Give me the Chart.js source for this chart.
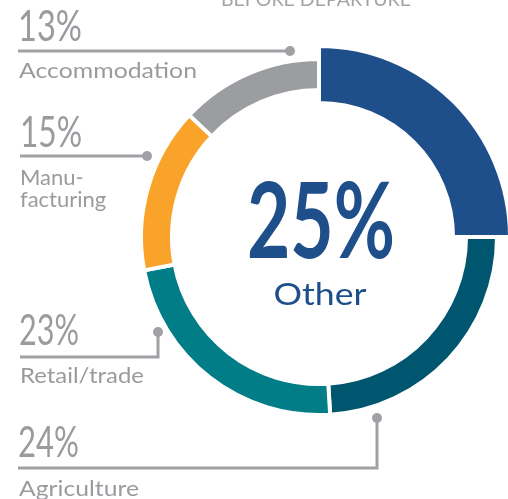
<!DOCTYPE html>
<html>
<head>
<meta charset="utf-8">
<script src="https://cdn.jsdelivr.net/npm/chart.js@4.4.1/dist/chart.umd.min.js"></script>
<style>
  html, body { margin: 0; padding: 0; background: #fff; }
  #wrap { position: relative; width: 508px; height: 499px; overflow: hidden; }
  #ring { position: absolute; left: 0; top: 0; }
  #notes { position: absolute; left: 0; top: 0; pointer-events: none; }
  #notes text { font-family: Lato, "Open Sans", sans-serif; }
</style>
</head>
<body>
<div id="wrap">
  <canvas id="ring" width="508" height="499"></canvas>
  <svg id="notes" width="508" height="499" xmlns="http://www.w3.org/2000/svg">
    <text x="316" y="6" text-anchor="middle" font-size="19" fill="#a3a4a8" textLength="190" lengthAdjust="spacingAndGlyphs">BEFORE DEPARTURE</text>

    <text x="18" y="41" font-size="42" fill="#9a9b9f" textLength="64" lengthAdjust="spacingAndGlyphs">13%</text>
    <line x1="18" y1="51" x2="290" y2="51" stroke="#a0a1a5" stroke-width="3"/>
    <circle cx="290" cy="51" r="5" fill="#a0a1a5"/>
    <text x="19" y="78" font-size="22" fill="#9a9b9f" textLength="178" lengthAdjust="spacingAndGlyphs">Accommodation</text>

    <text x="20" y="147" font-size="42" fill="#9a9b9f" textLength="62" lengthAdjust="spacingAndGlyphs">15%</text>
    <line x1="20" y1="156" x2="147" y2="156" stroke="#a0a1a5" stroke-width="3"/>
    <circle cx="147" cy="156" r="5" fill="#a0a1a5"/>
    <text x="20" y="185" font-size="22" fill="#9a9b9f">Manu-</text>
    <text x="20" y="207" font-size="22" fill="#9a9b9f">facturing</text>

    <text x="19" y="345" font-size="42" fill="#9a9b9f" textLength="60" lengthAdjust="spacingAndGlyphs">23%</text>
    <polyline points="20,357 158,357 158,333" fill="none" stroke="#a0a1a5" stroke-width="3"/>
    <circle cx="158" cy="332" r="5" fill="#a0a1a5"/>
    <text x="20" y="383" font-size="22" fill="#9a9b9f" textLength="124" lengthAdjust="spacingAndGlyphs">Retail/trade</text>

    <text x="18" y="457" font-size="42" fill="#9a9b9f" textLength="61" lengthAdjust="spacingAndGlyphs">24%</text>
    <polyline points="18,468 377,468 377,419" fill="none" stroke="#a0a1a5" stroke-width="3"/>
    <circle cx="377" cy="418" r="5" fill="#a0a1a5"/>
    <text x="19" y="496" font-size="22" fill="#9a9b9f" textLength="120" lengthAdjust="spacingAndGlyphs">Agriculture</text>

    <text x="321" y="258" text-anchor="middle" font-size="106" font-weight="bold" fill="#1f4f8a" textLength="148" lengthAdjust="spacingAndGlyphs">25%</text>
    <text x="320" y="305" text-anchor="middle" font-size="31" fill="#1f4f8a" textLength="93" lengthAdjust="spacingAndGlyphs">Other</text>
  </svg>
</div>
<script>
// shares of the doughnut, clockwise from 12 o'clock
const categories = ['Other', 'Agriculture', 'Retail/trade', 'Manufacturing', 'Accommodation'];
const shares = [25, 24, 23, 15, 13];
const sliceColors = ['#1f4f8a', '#01566f', '#017d88', '#faa32b', '#9c9da1'];

// the highlighted slice ("Other") is drawn wider than the rest of the ring
const thickSlice = {
    id: 'thickSlice',
    afterDatasetUpdate(chart, args) {
        const arc = chart.getDatasetMeta(args.index).data[0];
        arc.outerRadius += 13;
        arc.innerRadius -= 13;
    }
};

const ctx = document.getElementById('ring').getContext('2d');
const ringChart = new Chart(ctx, {
    type: 'doughnut',
    data: {
        labels: categories,
        datasets: [{
            data: shares,
            backgroundColor: sliceColors,
            borderColor: '#ffffff',
            borderWidth: 4
        }]
    },
    options: {
        responsive: false,
        devicePixelRatio: 1,
        animation: false,
        events: [],
        cutout: 147,
        layout: { padding: { left: 139, right: 9, top: 57, bottom: 82 } },
        plugins: {
            legend: { display: false },
            tooltip: { enabled: false }
        }
    },
    plugins: [thickSlice]
});
</script>
</body>
</html>
